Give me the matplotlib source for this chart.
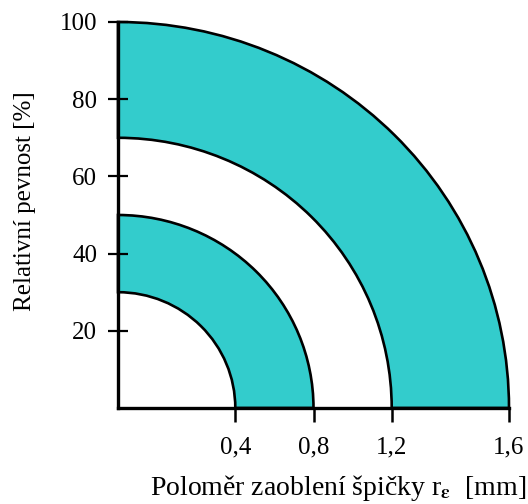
import matplotlib
matplotlib.use("Agg")
from matplotlib import pyplot as plt
from matplotlib.patches import Wedge

# ring edges (relative strength, %) and the corner radius they stand for
edges = [30, 50, 70, 100]
radius_labels = ["0,4", "0,8", "1,2", "1,6"]
bands = [(30, 50), (70, 100)]
yticks = [20, 40, 60, 80, 100]

plt.rcParams["font.family"] = ["Liberation Serif", "DejaVu Serif"]
plt.rcParams["mathtext.fontset"] = "stix"

fig = plt.figure(figsize=(5.28, 5.04), dpi=100)
ax = fig.add_axes([118/528, 96/504, 391/528, 386/504])

for r_in, r_out in bands:
    w = Wedge((0, 0), r_out, 0, 90, width=r_out - r_in,
              facecolor="#33CCCC", edgecolor="black", linewidth=1.9, clip_on=False)
    ax.add_patch(w)

ax.set_xlim(0, 100)
ax.set_ylim(0, 100)
for s in ["top", "right"]:
    ax.spines[s].set_visible(False)
for s in ["left", "bottom"]:
    ax.spines[s].set_linewidth(2.4)
    ax.spines[s].set_zorder(5)

ax.set_xticks(edges)
ax.set_xticklabels(radius_labels)
ax.set_yticks(yticks)
ax.tick_params(axis="y", direction="inout", length=14, width=1.6, labelsize=18, pad=8)
ax.tick_params(axis="x", direction="out", length=10, width=1.8, labelsize=18, pad=10.5)

fig.text(338/528, 9/504, r"Poloměr zaoblení špičky r$_{\mathbf{\varepsilon}}$  [mm]",
         fontsize=20, ha="center", va="baseline")
fig.text(25/528, 303/504, "Relativní pevnost [%]", fontsize=18,
         rotation=90, ha="center", va="center")

fig.savefig("out.png", dpi=100)
